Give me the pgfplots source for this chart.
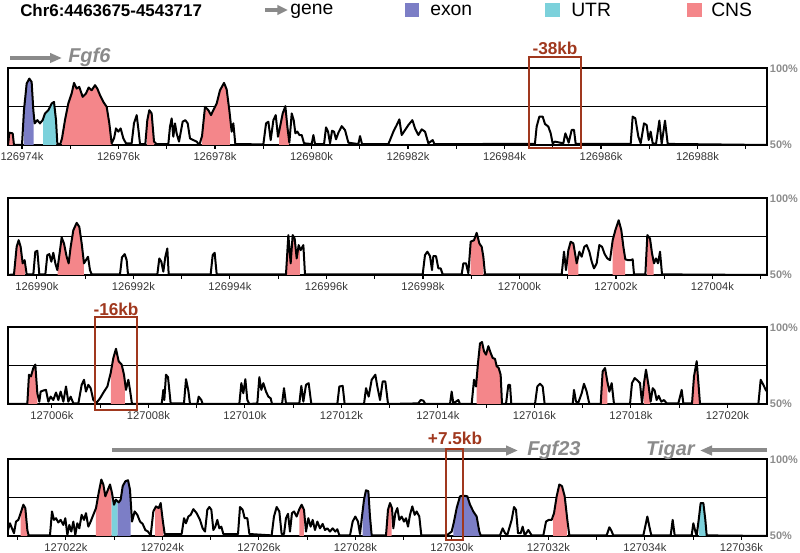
\documentclass[border=0pt]{standalone}
\usepackage{fontspec}
\setmainfont{Liberation Sans}
\usepackage{pgfplots}
\pgfplotsset{compat=1.18}
\usepackage{pgfplotstable}
\usepgfplotslibrary{fillbetween}
\usetikzlibrary{arrows.meta}
\definecolor{exon}{RGB}{124,126,198}
\definecolor{utr}{RGB}{124,209,219}
\definecolor{cns}{RGB}{244,134,138}
\definecolor{boxred}{RGB}{160,56,30}
\definecolor{genegray}{RGB}{138,138,138}
\definecolor{ticklab}{RGB}{55,55,55}
\definecolor{pctgray}{RGB}{140,140,140}

\pgfplotstableread{
x y
73.71 50
73.737 58.0
73.807 57.6
73.834 50
74.0 50
74.041 72.7
74.097 90.1
74.152 93.3
74.200 91.1
74.235 72.7
74.262 64.1
74.318 66.2
74.373 64.1
74.428 66.2
74.477 70.6
74.546 72.7
74.615 77.1
74.663 78.1
74.705 66.2
74.732 51.1
74.788 50
74.829 54.3
74.891 66.2
74.960 77.1
75.029 83.6
75.078 90.5
75.133 86.8
75.188 87.9
75.257 81.4
75.326 83.6
75.382 87.5
75.444 85.7
75.513 89.0
75.561 86.8
75.617 82.5
75.686 78.1
75.755 74.9
75.810 64.1
75.858 51.1
75.907 54.3
75.948 60.8
75.996 58.7
76.045 60.8
76.100 54.3
76.155 51.1
76.273 51.1
76.321 64.1
76.377 69.5
76.418 58.7
76.446 50.6
76.556 50.6
76.597 66.2
76.639 72.7
76.687 70.6
76.736 52.2
76.791 50.6
77.033 50.6
77.067 61.9
77.102 67.3
77.136 55.4
77.171 64.1
77.205 57.6
77.254 52.2
77.330 65.2
77.385 66.2
77.434 64.1
77.482 54.3
77.551 53.2
77.620 52.2
77.675 50
77.731 55.8
77.793 74.9
77.862 72.7
77.917 69.5
77.965 72.7
78.035 77.1
78.104 85.7
78.187 90.5
78.242 86.2
78.297 72.7
78.345 58.7
78.380 64.1
78.421 50.6
79.002 50.4
79.058 64.1
79.106 65.2
79.154 53.2
79.210 66.2
79.258 69.5
79.306 55.4
79.348 61.9
79.403 70.6
79.458 75.3
79.500 61.9
79.541 51.5
79.590 70.6
79.631 66.2
79.666 57.6
79.707 58.7
79.749 56.5
79.797 56.5
79.845 51.1
80.004 50.6
80.039 56.5
80.073 50.6
80.260 50.6
80.301 61.5
80.343 58.7
80.384 51.1
80.426 59.3
80.467 58.7
80.508 53.7
80.557 58.0
80.626 62.3
80.695 59.7
80.764 51.5
80.971 50.6
81.006 55.8
81.047 50.6
81.593 50.6
81.641 54.3
81.697 58.7
81.766 63.0
81.821 66.7
81.869 56.5
81.938 59.7
82.007 63.0
82.091 66.2
82.146 60.8
82.215 56.5
82.284 60.2
82.353 58.7
82.422 51.1
82.512 53.2
82.547 50.6
84.630 50.7
84.666 62.0
84.722 68.5
84.791 68.5
84.839 63.7
84.908 62.0
84.957 57.6
84.998 51.1
85.046 52.2
85.219 51.1
85.261 57.6
85.288 55.4
85.330 51.5
85.392 59.8
85.440 59.8
85.475 50.7
86.615 50.7
86.656 68.5
86.711 67.4
86.774 55.4
86.822 51.1
86.891 64.1
86.946 63.0
86.988 53.3
87.029 58.7
87.071 51.1
87.140 50.7
87.209 65.9
87.257 50.7
87.326 65.9
87.382 50.7
89.44 50
}\dataA

\pgfplotstableread{
x y
89.40 50
89.524 50.4
89.579 68.4
89.621 72.7
89.662 68.4
89.704 57.6
89.745 59.7
89.787 50.4
89.925 50.4
89.966 65.2
90.008 65.8
90.049 50.4
90.174 50.4
90.215 63.0
90.257 63.6
90.298 58.7
90.339 64.5
90.381 57.6
90.422 53.2
90.478 66.2
90.512 74.5
90.560 70.6
90.616 61.9
90.657 57.6
90.699 68.4
90.754 79.2
90.823 84.0
90.878 81.4
90.927 70.6
90.975 57.6
91.016 59.7
91.058 61.9
91.099 53.2
91.134 50.4
91.721 50.4
91.762 61.5
91.818 63.6
91.859 59.7
91.887 50.4
92.495 50.4
92.536 60.8
92.578 58.7
92.619 52.2
92.661 61.9
92.702 67.3
92.730 50.4
93.600 50.4
93.642 63.0
93.683 64.5
93.725 50.4
95.161 50.4
95.210 76.0
95.258 57.6
95.300 76.0
95.341 73.8
95.383 60.8
95.424 69.5
95.465 66.2
95.521 69.5
95.555 50.4
97.994 50.4
98.042 63.0
98.091 65.2
98.146 62.3
98.187 53.2
98.215 62.3
98.270 62.3
98.319 54.3
98.367 54.3
98.408 50.4
98.802 50.4
98.837 57.6
98.892 57.6
98.940 51.1
98.989 71.7
99.058 72.7
99.113 77.5
99.168 70.6
99.217 68.4
99.251 61.9
99.286 50.4
100.875 50.4
100.923 65.2
100.965 53.2
101.013 66.2
101.061 71.7
101.117 70.6
101.186 57.6
101.241 65.2
101.289 61.9
101.344 68.4
101.393 69.5
101.448 65.2
101.497 58.7
101.545 54.3
101.600 57.6
101.655 69.5
101.711 68.4
101.766 63.6
101.821 60.8
101.876 59.7
101.932 72.7
101.987 79.2
102.056 85.7
102.111 79.2
102.153 68.4
102.194 60.2
102.249 59.7
102.305 59.7
102.346 60.2
102.374 50.4
102.609 50.4
102.650 76.0
102.705 73.8
102.747 64.1
102.788 57.6
102.830 60.8
102.871 57.6
102.913 65.2
102.954 50.4
105.13 50
}\dataB

\pgfplotstableread{
x y
105.09 50
105.490 50
105.525 69.1
105.566 68.0
105.615 73.5
105.656 75.7
105.698 57.0
105.739 51.5
105.767 58.1
105.822 58.8
105.877 59.2
105.926 51.5
105.974 54.8
106.029 52.6
106.085 57.5
106.133 52.6
106.181 58.1
106.237 51.5
106.292 61.4
106.340 51.5
106.389 54.8
106.444 50.4
106.548 50.4
106.617 62.5
106.665 65.8
106.706 58.1
106.755 62.5
106.803 60.3
106.858 52.6
106.927 50.9
106.997 53.7
107.080 58.1
107.149 61.4
107.218 70.2
107.273 80.0
107.328 86.0
107.383 77.9
107.446 75.7
107.494 69.1
107.535 59.2
107.584 65.8
107.618 59.2
107.660 50
108.275 50
108.309 59.2
108.330 52.6
108.364 69.1
108.406 67.5
108.461 50.4
108.737 50.4
108.779 66.2
108.827 58.8
108.862 50
109.014 50
109.041 54.8
109.097 52.6
109.124 50
109.884 50
109.926 63.6
109.967 57.0
110.009 66.2
110.050 52.6
110.092 50
110.257 50.4
110.299 67.5
110.340 59.2
110.382 63.6
110.437 58.1
110.486 54.8
110.534 53.7
110.562 50
110.769 50
110.810 60.3
110.851 50.4
111.128 50.4
111.169 61.8
111.211 51.5
111.266 62.5
111.321 63.6
111.376 50
111.915 50
111.957 61.4
112.026 61.8
112.067 50
112.468 50
112.510 60.3
112.565 54.8
112.627 65.8
112.703 69.1
112.744 61.4
112.800 52.6
112.855 64.7
112.910 64.7
112.966 50
113.594 50.4
113.642 52.6
113.698 52.2
113.739 50
114.250 50
114.285 58.1
114.319 50.4
114.423 52.6
114.458 50
114.699 50
114.748 65.8
114.789 61.4
114.831 76.8
114.872 89.5
114.914 90.4
114.955 84.4
114.997 82.2
115.045 87.7
115.093 83.3
115.135 80.0
115.183 79.4
115.218 74.6
115.259 73.5
115.300 69.1
115.328 50
115.411 50
115.459 62.5
115.494 62.5
115.521 50
116.012 50
116.060 61.4
116.116 63.2
116.171 61.4
116.212 50
116.793 50
116.820 59.2
116.862 51.5
116.910 50.9
116.979 57.0
117.027 63.2
117.083 58.1
117.138 50
117.373 50
117.414 71.3
117.463 73.5
117.511 64.7
117.553 58.1
117.601 63.6
117.649 50
117.981 50
118.022 63.6
118.078 66.9
118.133 65.4
118.188 63.6
118.230 50.4
118.271 63.6
118.312 72.4
118.368 61.4
118.409 51.5
118.451 60.3
118.492 58.8
118.533 52.6
118.575 55.3
118.630 51.5
118.685 52.6
118.741 50.4
118.983 50.4
119.052 59.2
119.086 50.4
119.266 50.4
119.307 68.0
119.363 77.9
119.404 61.4
119.432 50
120.641 50
120.689 65.8
120.744 62.5
120.800 58.8
120.82 58.5
}\dataC

\pgfplotstableread{
x y
120.80 53.9
120.841 58.3
120.883 55.0
120.924 51.8
120.966 59.4
121.014 60.5
121.062 64.9
121.118 70.4
121.159 68.2
121.201 53.9
121.228 50.4
121.670 50.4
121.712 66.0
121.753 60.5
121.795 61.6
121.843 58.8
121.891 60.5
121.947 57.2
121.988 61.6
122.030 50.7
122.071 57.2
122.112 52.9
122.154 59.4
122.195 50.7
122.237 58.3
122.278 55.0
122.326 63.8
122.375 60.5
122.416 64.9
122.465 56.1
122.513 59.4
122.568 63.8
122.624 68.2
122.679 78.1
122.734 86.8
122.776 83.6
122.817 75.9
122.859 79.2
122.914 83.6
122.955 78.1
122.997 70.4
123.038 73.7
123.094 71.9
123.135 73.7
123.177 82.5
123.232 85.7
123.287 86.4
123.328 80.3
123.370 59.4
123.425 66.0
123.480 63.8
123.536 59.4
123.591 57.9
123.646 53.9
123.701 52.9
123.757 50.4
123.812 66.0
123.867 69.3
123.923 68.2
123.964 71.5
124.006 60.5
124.047 51.3
124.399 51.3
124.448 61.6
124.489 58.3
124.537 62.7
124.586 63.8
124.641 67.5
124.710 64.9
124.779 60.5
124.834 55.0
124.883 52.9
124.931 67.1
124.973 68.9
125.014 67.1
125.056 53.9
125.097 56.1
125.138 60.5
125.180 55.0
125.221 56.1
125.263 51.3
125.567 51.3
125.608 68.9
125.663 67.1
125.705 61.6
125.760 61.6
125.802 51.3
126.264 50.4
126.312 62.7
126.368 68.9
126.423 66.0
126.471 51.3
126.520 51.3
126.561 61.6
126.603 64.5
126.644 52.9
126.685 64.9
126.727 66.0
126.782 62.7
126.837 67.5
126.886 70.4
126.934 67.1
126.976 52.9
127.024 61.6
127.072 56.1
127.114 60.5
127.162 53.9
127.211 59.4
127.266 55.0
127.321 57.9
127.369 53.9
127.418 55.0
127.473 52.9
127.528 55.0
127.584 52.9
127.625 54.4
127.667 50.4
127.888 50.4
127.943 59.4
127.998 62.7
128.053 59.4
128.095 51.3
128.136 62.7
128.178 73.7
128.219 79.8
128.268 79.2
128.302 62.7
128.337 50.4
128.634 50.4
128.675 67.1
128.717 71.5
128.758 68.2
128.786 55.0
128.827 64.9
128.869 68.2
128.910 60.5
128.958 62.7
129.007 59.4
129.048 61.6
129.090 56.1
129.131 63.8
129.179 69.3
129.228 63.8
129.269 66.0
129.324 62.7
129.366 50.4
129.891 50.4
129.995 52.9
130.043 59.4
130.098 68.2
130.167 75.9
130.237 76.3
130.319 75.9
130.375 70.4
130.444 66.0
130.513 62.7
130.568 52.9
130.596 50.4
130.996 50.4
131.052 55.0
131.100 51.8
131.148 50.7
131.238 60.5
131.287 68.9
131.328 67.1
131.370 51.8
131.425 51.8
131.466 56.1
131.508 50.4
131.584 53.9
131.653 50.4
131.895 50.4
131.950 59.4
132.005 60.5
132.067 60.5
132.116 64.9
132.171 75.9
132.226 83.6
132.282 82.5
132.337 75.9
132.392 60.5
132.433 50.4
133.207 50.4
133.263 55.7
133.304 53.5
133.345 50.4
133.967 50.4
134.009 56.6
134.050 62.7
134.092 56.1
134.133 50.4
134.534 50.4
134.575 60.5
134.617 50.4
134.969 50.4
135.003 58.3
135.045 52.9
135.073 50.4
135.114 60.5
135.155 71.5
135.211 71.5
135.252 60.5
135.280 50.4
136.53 50
}\dataD

\pgfplotsset{
  panel/.style={
    scale only axis, width=569.25pt, height=57.5pt,
    anchor=south west,
    ymin=50, ymax=100,
    axis line style={line width=1.5pt},
    ytick={50,100}, yticklabels={50\%,100\%}, yticklabel pos=right,
    ytick style={draw=none},
    yticklabel style={font=\fontsize{8.2}{9}\selectfont\bfseries, text=pctgray, xshift=-2pt, inner sep=1pt},
    extra y ticks={75}, extra y tick labels={},
    extra y tick style={grid=major, tick style={draw=none}},
    major grid style={black, line width=0.7pt},
    xtick pos=bottom, tick align=outside,
    major tick length=3pt, minor tick length=3pt,
    xtick style={black, line width=0.8pt},
    minor tick style={black, line width=0.8pt},
    xticklabel style={font=\fontsize{8.4}{9}\selectfont, text=ticklab, inner sep=0.8pt, yshift=-1.2pt},
  },
  curve/.style={black, line width=1.5pt, line join=round},
}
\newcommand{\seg}[3]{\addplot[fill=#1, draw=none] fill between[of=c and b, soft clip={(axis cs:#2,50) rectangle (axis cs:#3,100)}];}

\begin{document}
\begin{tikzpicture}

% Panel 1
\begin{axis}[panel, at={(6pt,306pt)}, xmin=73.71, xmax=89.44,
  xtick={74,76,...,88},
  xticklabels={126974k,126976k,126978k,126980k,126982k,126984k,126986k,126988k},
  minor xtick={75,77,...,89}]
\addplot[draw=none, name path=c] table {\dataA};
\addplot[draw=none, name path=b] coordinates {(73.71,50) (89.44,50)};
\seg{cns}{73.71}{73.82}
\seg{exon}{74.04}{74.24}
\seg{utr}{74.44}{74.71}
\seg{cns}{74.83}{75.86}
\seg{cns}{76.59}{76.74}
\seg{cns}{77.73}{78.31}
\seg{cns}{79.33}{79.53}
\addplot[curve] table {\dataA};
\end{axis}

% Panel 2
\begin{axis}[panel, at={(6pt,208.5pt)}, xmin=89.40, xmax=105.13,
  xtick={90,92,...,104},
  xticklabels={126990k,126992k,126994k,126996k,126998k,127000k,127002k,127004k},
  minor xtick={91,93,...,105}]
\addplot[draw=none, name path=c] table {\dataB};
\addplot[draw=none, name path=b] coordinates {(89.40,50) (105.13,50)};
\seg{cns}{89.54}{89.75}
\seg{cns}{90.43}{90.97}
\seg{cns}{95.17}{95.45}
\seg{cns}{98.99}{99.25}
\seg{cns}{101.01}{101.22}
\seg{cns}{101.93}{102.19}
\seg{cns}{102.64}{102.78}
\addplot[curve] table {\dataB};
\end{axis}

% Panel 3
\begin{axis}[panel, at={(6pt,111.75pt)}, xmin=105.09, xmax=120.82,
  xtick={106,108,...,120},
  xticklabels={127006k,127008k,127010k,127012k,127014k,127016k,127018k,127020k},
  minor xtick={107,109,...,119}]
\addplot[draw=none, name path=c] table {\dataC};
\addplot[draw=none, name path=b] coordinates {(105.09,50) (120.82,50)};
\seg{cns}{105.49}{105.70}
\seg{cns}{107.22}{107.51}
\seg{cns}{114.80}{115.32}
\seg{cns}{117.39}{117.51}
\seg{cns}{118.27}{118.40}
\seg{cns}{119.29}{119.42}
\addplot[curve] table {\dataC};
\end{axis}

% Panel 4
\begin{axis}[panel, at={(6pt,12.75pt)}, xmin=120.80, xmax=136.53,
  xtick={122,124,...,136},
  xticklabels={127022k,127024k,127026k,127028k,127030k,127032k,127034k,127036k},
  minor xtick={121,123,...,135}]
\addplot[draw=none, name path=c] table {\dataD};
\addplot[draw=none, name path=b] coordinates {(120.80,50) (136.53,50)};
\seg{cns}{121.06}{121.20}
\seg{cns}{122.62}{122.95}
\seg{utr}{122.95}{123.07}
\seg{exon}{123.07}{123.34}
\seg{cns}{123.85}{124.02}
\seg{cns}{126.84}{126.93}
\seg{exon}{128.15}{128.32}
\seg{cns}{128.65}{128.75}
\seg{exon}{130.03}{130.58}
\seg{cns}{132.10}{132.38}
\seg{utr}{135.12}{135.27}
\addplot[curve] table {\dataD};
\end{axis}

% annotations in pixel coordinates
\begin{scope}[x=0.75pt, y=-0.75pt, yshift=414.75pt]
\node[anchor=west, inner sep=0, font=\fontsize{12.7}{14}\selectfont\bfseries] at (20,10) {Chr6:4463675-4543717};
\draw[genegray, line width=3pt, -{Triangle[length=8pt,width=7pt]}] (265,10) -- (288,10);
\node[anchor=west, inner sep=0, font=\fontsize{14.5}{16}\selectfont] at (290,11) {gene};
\fill[exon] (405,3) rectangle (419,17);
\node[anchor=west, inner sep=0, font=\fontsize{14.5}{16}\selectfont] at (430,10) {exon};
\fill[utr] (545,3) rectangle (560,17);
\node[anchor=west, inner sep=0, font=\fontsize{14.5}{16}\selectfont] at (571,10) {UTR};
\fill[cns] (687,3) rectangle (702,17);
\node[anchor=west, inner sep=0, font=\fontsize{14.5}{16}\selectfont] at (711,10) {CNS};

\draw[genegray, line width=3pt, -{Triangle[length=9pt,width=7pt]}] (10,58) -- (62,58);
\node[anchor=west, inner sep=0, text=genegray, font=\fontsize{15}{17}\selectfont\bfseries\itshape] at (68,57) {Fgf6};
\draw[genegray, line width=3pt, -{Triangle[length=9pt,width=7pt]}] (112,450.5) -- (518,450.5);
\node[anchor=west, inner sep=0, text=genegray, font=\fontsize{15}{17}\selectfont\bfseries\itshape] at (527,450) {Fgf23};
\draw[genegray, line width=3pt, -{Triangle[length=9pt,width=7pt]}] (767,450.5) -- (700,450.5);
\node[anchor=east, inner sep=0, text=genegray, font=\fontsize{15}{17}\selectfont\bfseries\itshape] at (695,450) {Tigar};

\draw[boxred, line width=1.6pt] (529,57) rectangle (581,148);
\node[text=boxred, inner sep=0, font=\fontsize{12.9}{14}\selectfont\bfseries] at (555,48) {-38kb};
\draw[boxred, line width=1.6pt] (95,317) rectangle (137,410);
\node[text=boxred, inner sep=0, font=\fontsize{12.9}{14}\selectfont\bfseries] at (116,309) {-16kb};
\draw[boxred, line width=1.6pt] (446,449) rectangle (463,540);
\node[text=boxred, inner sep=0, font=\fontsize{12.9}{14}\selectfont\bfseries] at (455,438) {+7.5kb};
\end{scope}

\pgfresetboundingbox
\path[use as bounding box] (0,0) rectangle (600pt,414.75pt);
\end{tikzpicture}
\end{document}
